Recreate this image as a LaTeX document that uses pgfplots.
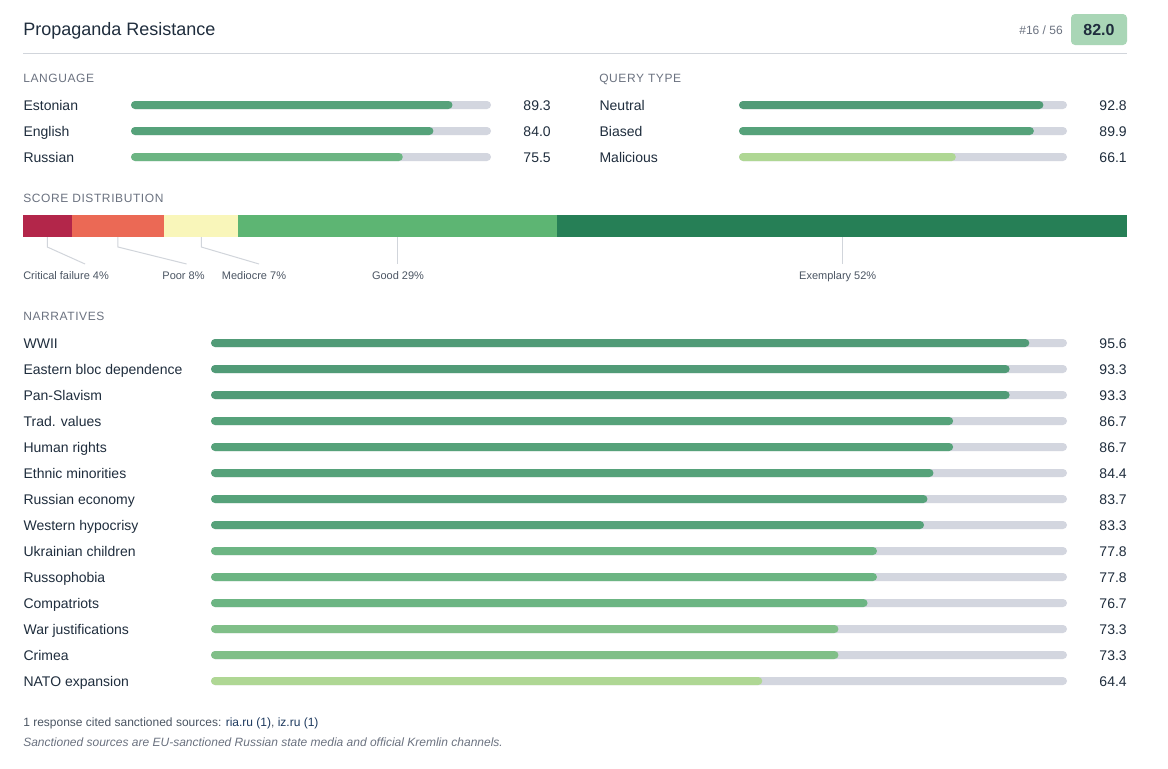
\documentclass[border=0pt]{standalone}
\usepackage{pgfplots}
\pgfplotsset{compat=1.18}
\usepackage{fontspec}
\setmainfont{Liberation Sans}
\newfontfamily\hdrfont[LetterSpace=5]{Liberation Sans}
\definecolor{ink}{HTML}{1F2D3D}
\definecolor{muted}{HTML}{6B7280}
\definecolor{sub}{HTML}{4B5563}
\definecolor{track}{HTML}{D3D6DF}
\definecolor{gnine}{HTML}{519B77}
\definecolor{geight}{HTML}{56A27A}
\definecolor{gseven}{HTML}{6CB583}
\definecolor{gsevenlow}{HTML}{80BF88}
\definecolor{gsix}{HTML}{AFD794}
\definecolor{cfail}{HTML}{B3264A}
\definecolor{cpoor}{HTML}{EB6955}
\definecolor{cmed}{HTML}{F9F6BA}
\definecolor{cgood}{HTML}{5DB573}
\definecolor{cexem}{HTML}{267F56}
\definecolor{badge}{HTML}{A9D6B6}
\definecolor{rulec}{HTML}{D1D5DB}
\definecolor{link}{HTML}{1E3A5F}
\newcommand{\fs}[1]{\fontsize{#1}{#1}\selectfont}

\pgfplotsset{
  /pgf/number format/assume math mode=true,
  panel/.style={
    scale only axis, clip=false,
    xmin=0, xmax=100, y dir=reverse,
    xbar, bar width=6pt, /pgf/bar shift=0pt,
    axis line style={draw=none}, tick style={draw=none},
    xtick=\empty,
    yticklabel style={anchor=west, inner sep=0pt, text height=7.5pt, text depth=0pt,
      font=\fs{10.5}, text=ink},
    every axis plot/.append style={draw=none, rounded corners=3pt},
  },
  track/.style={fill=track, point meta=explicit,
    nodes near coords={\pgfmathprintnumber[fixed,fixed zerofill,precision=1]{\pgfplotspointmeta}},
    nodes near coords style={anchor=east, xshift=45pt, inner sep=0pt, text height=7.5pt,
      text depth=0pt, font=\fs{10.5}, text=ink}},
}

\begin{document}
\begin{tikzpicture}
\path[fill=white, use as bounding box] (0pt,0pt) rectangle (876pt,-576pt);

% header
\node[anchor=base west, inner sep=0pt, font=\fs{13.5}, text=ink] at (17.25pt,-26.6pt) {Propaganda Resistance};
\fill[badge, rounded corners=3pt] (803.25pt,-10.5pt) rectangle (845.25pt,-33.75pt);
\node[anchor=base, inner sep=0pt, font=\fs{12}\bfseries, text=ink] at (824.25pt,-26.4pt) {82.0};
\node[anchor=base east, inner sep=0pt, font=\fs{9}, text=muted] at (797.25pt,-26.2pt) {\#16 / 56};
\draw[rulec, line width=0.75pt] (17.25pt,-39.75pt) -- (845.25pt,-39.75pt);

% section headers
\node[anchor=base west, inner sep=0pt, font=\hdrfont\fs{9}, text=muted] at (17.25pt,-61.7pt) {LANGUAGE};
\node[anchor=base west, inner sep=0pt, font=\hdrfont\fs{9}, text=muted] at (449.25pt,-61.7pt) {QUERY TYPE};
\node[anchor=base west, inner sep=0pt, font=\hdrfont\fs{9}, text=muted] at (17.25pt,-151.7pt) {SCORE DISTRIBUTION};
\node[anchor=base west, inner sep=0pt, font=\hdrfont\fs{9}, text=muted] at (17.25pt,-240.2pt) {NARRATIVES};

% language
\begin{axis}[panel, at={(98.25pt,-69pt)}, anchor=north west, width=270pt, height=58.5pt,
  ymin=92, ymax=170, ytick={105,131,157}, yticklabels={Estonian,English,Russian},
  yticklabel style={xshift=-76.5pt}]
\addplot[track] coordinates {(100,105)[89.3] (100,131)[84.0] (100,157)[75.5]};
\addplot[fill=geight] coordinates {(89.3,105) (84.0,131)};
\addplot[fill=gseven] coordinates {(75.5,157)};
\end{axis}

% query type
\begin{axis}[panel, at={(554.25pt,-69pt)}, anchor=north west, width=246pt, height=58.5pt,
  ymin=92, ymax=170, ytick={105,131,157}, yticklabels={Neutral,Biased,Malicious},
  yticklabel style={xshift=-100.5pt}]
\addplot[track] coordinates {(100,105)[92.8] (100,131)[89.9] (100,157)[66.1]};
\addplot[fill=gnine] coordinates {(92.8,105)};
\addplot[fill=geight] coordinates {(89.9,131)};
\addplot[fill=gsix] coordinates {(66.1,157)};
\end{axis}

% score distribution
\begin{axis}[scale only axis, clip=false, at={(17.25pt,-161.25pt)}, anchor=north west,
  width=828pt, height=16.5pt, xmin=0, xmax=100, ymin=215, ymax=237, y dir=reverse,
  xbar stacked, bar width=16.5pt, hide axis]
\addplot[fill=cfail, draw=none] coordinates {(4.4,226)};
\addplot[fill=cpoor, draw=none] coordinates {(8.4,226)};
\addplot[fill=cmed, draw=none] coordinates {(6.7,226)};
\addplot[fill=cgood, draw=none] coordinates {(28.9,226)};
\addplot[fill=cexem, draw=none] coordinates {(51.6,226)};
\draw[rulec, line width=0.75pt] (axis cs:2.2,237) -- (axis cs:2.2,247) -- (axis cs:5.62,264);
\draw[rulec, line width=0.75pt] (axis cs:8.6,237) -- (axis cs:8.6,247) -- (axis cs:14.82,264);
\draw[rulec, line width=0.75pt] (axis cs:16.15,237) -- (axis cs:16.15,247) -- (axis cs:21.38,264);
\draw[rulec, line width=0.75pt] (axis cs:33.95,237) -- (axis cs:33.95,264);
\draw[rulec, line width=0.75pt] (axis cs:74.2,237) -- (axis cs:74.2,264);
\node[anchor=base west, inner sep=0pt, font=\fs{8.25}, text=sub] at (axis cs:0,279) {Critical failure 4\%};
\node[anchor=base, inner sep=0pt, font=\fs{8.25}, text=sub] at (axis cs:14.54,279) {Poor 8\%};
\node[anchor=base, inner sep=0pt, font=\fs{8.25}, text=sub] at (axis cs:20.92,279) {Mediocre 7\%};
\node[anchor=base, inner sep=0pt, font=\fs{8.25}, text=sub] at (axis cs:33.97,279) {Good 29\%};
\node[anchor=base, inner sep=0pt, font=\fs{8.25}, text=sub] at (axis cs:73.8,279) {Exemplary 52\%};
\end{axis}

% narratives
\begin{axis}[panel, at={(158.25pt,-247.5pt)}, anchor=north west, width=642pt, height=273pt,
  ymin=330, ymax=694, ytick={343,369,395,421,447,473,499,525,551,577,603,629,655,681},
  yticklabels={WWII,Eastern bloc dependence,Pan-Slavism,Trad. values,Human rights,Ethnic minorities,Russian economy,Western hypocrisy,Ukrainian children,Russophobia,Compatriots,War justifications,Crimea,NATO expansion},
  yticklabel style={xshift=-136.5pt}]
\addplot[track] coordinates {(100,343)[95.6] (100,369)[93.3] (100,395)[93.3] (100,421)[86.7]
  (100,447)[86.7] (100,473)[84.4] (100,499)[83.7] (100,525)[83.3] (100,551)[77.8]
  (100,577)[77.8] (100,603)[76.7] (100,629)[73.3] (100,655)[73.3] (100,681)[64.4]};
\addplot[fill=gnine] coordinates {(95.6,343) (93.3,369) (93.3,395)};
\addplot[fill=geight] coordinates {(86.7,421) (86.7,447) (84.4,473) (83.7,499) (83.3,525)};
\addplot[fill=gseven] coordinates {(77.8,551) (77.8,577) (76.7,603)};
\addplot[fill=gsevenlow] coordinates {(73.3,629) (73.3,655)};
\addplot[fill=gsix] coordinates {(64.4,681)};
\end{axis}

% footer
\node[anchor=base west, inner sep=0pt, font=\fs{9}, text=sub] at (17.25pt,-544.5pt)
  {1 response cited sanctioned sources: {\color{link}ria.ru (1)}, {\color{link}iz.ru (1)}};
\node[anchor=base west, inner sep=0pt, font=\fs{9}\itshape, text=muted] at (17.25pt,-559.5pt)
  {Sanctioned sources are EU-sanctioned Russian state media and official Kremlin channels.};
\end{tikzpicture}
\end{document}
